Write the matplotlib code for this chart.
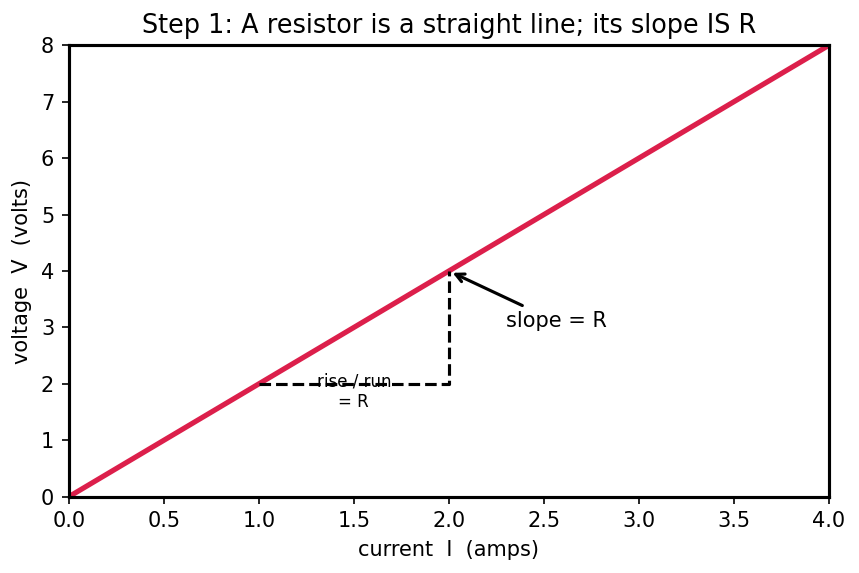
import numpy as np
import matplotlib
matplotlib.use("Agg")
from matplotlib import pyplot as plt

# resistor V = R * I with R = 2
current = [0.0, 4.0]
voltage = [0.0, 8.0]

# rise/run triangle
run_x = [1.0, 2.0, 2.0]
run_y = [2.0, 2.0, 4.0]

fig = plt.figure(figsize=(859 / 150, 573 / 150), dpi=150)
ax = fig.add_axes([0.080, 0.133, 0.885, 0.788])

ax.plot(current, voltage, color="#DC1F4B", linewidth=2.5)
ax.plot(run_x, run_y, color="black", linestyle="--", linewidth=1.5)

ax.annotate("slope = R", xy=(2.0, 4.0), xytext=(2.3, 3.0), fontsize=10,
            arrowprops=dict(arrowstyle="->", color="black", lw=1.5))
ax.text(1.5, 1.86, "rise / run\n= R", fontsize=8, ha="center", va="center")

ax.set_xlim(0, 4)
ax.set_ylim(0, 8)
ax.set_xlabel("current  I  (amps)", fontsize=10)
ax.set_ylabel("voltage  V  (volts)", fontsize=10)
ax.set_title("Step 1: A resistor is a straight line; its slope IS R", fontsize=12.25)
ax.tick_params(labelsize=10)
for s in ax.spines.values():
    s.set_linewidth(1.5)

fig.savefig("out.png", dpi=150)
